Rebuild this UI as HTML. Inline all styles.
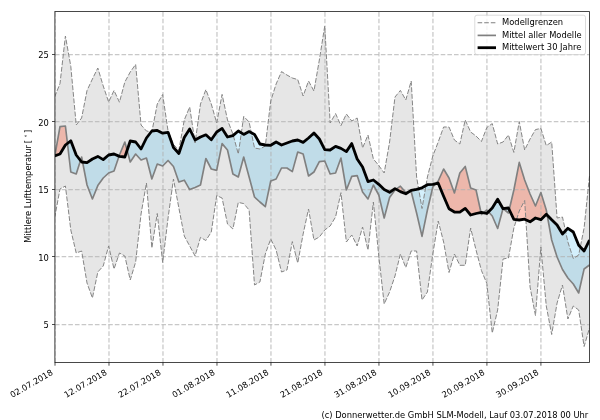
<!DOCTYPE html>
<html lang="de"><head><meta charset="utf-8"><title>Mittlere Lufttemperatur</title>
<style>
html,body{margin:0;padding:0;background:#fff;}
body{width:600px;height:420px;overflow:hidden;}
svg{display:block;}
svg text{font-family:"DejaVu Sans","Liberation Sans",sans-serif;font-size:8.33px;fill:#000;}
</style></head><body>
<svg width="600" height="420" viewBox="0 0 600 420">
<rect width="600" height="420" fill="#fff"/>
<defs><clipPath id="ax"><rect x="55.0" y="11.5" width="534.5" height="351.0"/></clipPath></defs>
<g clip-path="url(#ax)">
<polygon points="54.60,97.00 60.00,83.60 65.41,36.00 70.81,66.40 76.21,125.00 81.62,118.00 87.02,90.50 92.42,79.00 97.82,68.00 103.23,86.00 108.63,102.00 114.03,90.50 119.44,102.20 124.84,82.00 130.24,72.00 135.65,64.40 141.05,125.00 146.45,131.00 151.85,132.00 157.26,104.00 162.66,94.50 168.06,131.00 173.47,144.50 178.87,150.00 184.27,120.00 189.68,107.00 195.08,143.00 200.48,104.00 205.88,89.60 211.29,104.00 216.69,123.00 222.09,94.40 227.50,120.00 232.90,134.00 238.30,154.00 243.71,116.40 249.11,122.00 254.51,148.00 259.92,149.00 265.32,146.00 270.72,101.00 276.12,84.00 281.53,71.60 286.93,75.00 292.33,78.00 297.74,79.60 303.14,96.00 308.54,81.00 313.95,91.00 319.35,60.00 324.75,26.00 330.15,123.00 335.56,113.60 340.96,125.60 346.36,114.00 351.77,121.00 357.17,118.00 362.57,148.00 367.98,135.00 373.38,159.00 378.78,165.50 384.18,173.00 389.59,142.00 394.99,97.00 400.39,90.40 405.80,100.00 411.20,81.00 416.60,177.00 422.01,208.50 427.41,177.00 432.81,156.00 438.22,142.00 443.62,127.00 449.02,127.00 454.42,140.00 459.83,144.00 465.23,120.00 470.63,132.00 476.04,136.00 481.44,141.50 486.84,127.50 492.25,123.60 497.65,144.00 503.05,142.00 508.45,135.00 513.86,152.40 519.26,121.60 524.66,150.00 530.07,139.00 535.47,129.60 540.87,128.40 546.28,145.60 551.68,142.00 557.08,218.00 562.48,217.00 567.89,242.00 573.29,258.50 578.69,255.00 584.10,228.00 589.50,176.00 589.50,328.00 584.10,346.50 578.69,310.00 573.29,306.00 567.89,319.00 562.48,285.00 557.08,303.00 551.68,334.50 546.28,306.00 540.87,247.00 535.47,315.60 530.07,287.00 524.66,200.50 519.26,211.00 513.86,228.00 508.45,258.00 503.05,259.00 497.65,310.00 492.25,333.00 486.84,283.50 481.44,270.50 476.04,250.00 470.63,228.00 465.23,265.30 459.83,265.30 454.42,254.00 449.02,272.50 443.62,242.00 438.22,221.00 432.81,254.00 427.41,292.00 422.01,300.00 416.60,251.00 411.20,251.00 405.80,267.50 400.39,254.00 394.99,276.00 389.59,292.00 384.18,304.00 378.78,256.00 373.38,202.00 367.98,250.00 362.57,227.00 357.17,246.00 351.77,235.00 346.36,242.00 340.96,192.70 335.56,217.00 330.15,226.00 324.75,230.00 319.35,237.00 313.95,240.00 308.54,209.00 303.14,234.00 297.74,263.00 292.33,241.60 286.93,270.00 281.53,272.00 276.12,250.00 270.72,239.00 265.32,254.00 259.92,282.00 254.51,285.00 249.11,210.00 243.71,203.60 238.30,202.40 232.90,229.00 227.50,224.00 222.09,198.00 216.69,195.60 211.29,232.00 205.88,240.50 200.48,237.40 195.08,256.00 189.68,246.00 184.27,236.00 178.87,208.00 173.47,179.00 168.06,218.00 162.66,262.50 157.26,213.50 151.85,248.00 146.45,183.00 141.05,214.00 135.65,262.00 130.24,280.00 124.84,256.00 119.44,253.00 114.03,269.00 108.63,246.00 103.23,266.00 97.82,272.00 92.42,298.00 87.02,283.00 81.62,251.00 76.21,253.00 70.81,230.00 65.41,186.00 60.00,189.00 54.60,218.00" fill="#808080" fill-opacity="0.2"/>
<path d="M54.60,157.00L54.79,155.93L54.79,155.93L54.60,156.00ZM67.45,143.41L70.81,172.00L70.81,140.80L67.45,143.41ZM70.81,172.00L76.21,174.00L76.21,155.00L70.81,140.80ZM76.21,174.00L80.49,160.54L80.49,160.54L76.21,155.00ZM82.60,162.11L87.02,185.00L87.02,162.60L82.60,162.11ZM87.02,185.00L92.42,199.00L92.42,159.00L87.02,162.60ZM92.42,199.00L97.82,185.60L97.82,156.40L92.42,159.00ZM97.82,185.60L103.23,178.00L103.23,159.60L97.82,156.40ZM103.23,178.00L108.63,173.00L108.63,155.00L103.23,159.60ZM108.63,173.00L114.03,171.00L114.03,154.00L108.63,155.00ZM114.03,171.00L119.03,156.22L119.03,156.22L114.03,154.00ZM127.09,150.33L130.24,162.00L130.24,141.00L127.09,150.33ZM130.24,162.00L135.65,154.00L135.65,142.00L130.24,141.00ZM135.65,154.00L141.05,160.00L141.05,149.00L135.65,142.00ZM141.05,160.00L146.45,158.00L146.45,138.00L141.05,149.00ZM146.45,158.00L151.85,179.00L151.85,131.00L146.45,138.00ZM151.85,179.00L157.26,164.00L157.26,130.40L151.85,131.00ZM157.26,164.00L162.66,166.00L162.66,133.20L157.26,130.40ZM162.66,166.00L168.06,160.50L168.06,132.30L162.66,133.20ZM168.06,160.50L173.47,166.50L173.47,147.50L168.06,132.30ZM173.47,166.50L178.87,182.00L178.87,153.50L173.47,147.50ZM178.87,182.00L184.27,180.20L184.27,137.50L178.87,153.50ZM184.27,180.20L189.68,189.60L189.68,129.00L184.27,137.50ZM189.68,189.60L195.08,187.40L195.08,140.00L189.68,129.00ZM195.08,187.40L200.48,185.00L200.48,137.00L195.08,140.00ZM200.48,185.00L205.88,158.50L205.88,134.80L200.48,137.00ZM205.88,158.50L211.29,169.00L211.29,139.80L205.88,134.80ZM211.29,169.00L216.69,170.40L216.69,132.00L211.29,139.80ZM216.69,170.40L222.09,143.60L222.09,128.40L216.69,132.00ZM222.09,143.60L227.50,150.00L227.50,137.00L222.09,128.40ZM227.50,150.00L232.90,174.00L232.90,135.60L227.50,137.00ZM232.90,174.00L238.30,177.00L238.30,131.00L232.90,135.60ZM238.30,177.00L243.71,157.00L243.71,134.40L238.30,131.00ZM243.71,157.00L249.11,177.00L249.11,131.60L243.71,134.40ZM249.11,177.00L254.51,197.00L254.51,134.40L249.11,131.60ZM254.51,197.00L259.92,202.00L259.92,144.00L254.51,134.40ZM259.92,202.00L265.32,206.60L265.32,145.00L259.92,144.00ZM265.32,206.60L270.72,181.00L270.72,145.30L265.32,145.00ZM270.72,181.00L276.12,179.00L276.12,142.00L270.72,145.30ZM276.12,179.00L281.53,168.00L281.53,145.00L276.12,142.00ZM281.53,168.00L286.93,168.00L286.93,143.00L281.53,145.00ZM286.93,168.00L292.33,171.60L292.33,141.00L286.93,143.00ZM292.33,171.60L297.74,152.00L297.74,140.00L292.33,141.00ZM297.74,152.00L303.14,154.00L303.14,142.40L297.74,140.00ZM303.14,154.00L308.54,176.00L308.54,138.00L303.14,142.40ZM308.54,176.00L313.95,172.00L313.95,133.00L308.54,138.00ZM313.95,172.00L319.35,161.60L319.35,139.00L313.95,133.00ZM319.35,161.60L324.75,161.00L324.75,149.60L319.35,139.00ZM324.75,161.00L330.15,174.00L330.15,150.00L324.75,149.60ZM330.15,174.00L335.56,173.00L335.56,146.40L330.15,150.00ZM335.56,173.00L340.96,158.00L340.96,148.40L335.56,146.40ZM340.96,158.00L346.36,190.00L346.36,151.60L340.96,148.40ZM346.36,190.00L351.77,176.40L351.77,143.60L346.36,151.60ZM351.77,176.40L357.17,175.60L357.17,159.00L351.77,143.60ZM357.17,175.60L362.57,192.00L362.57,167.00L357.17,159.00ZM362.57,192.00L367.98,199.00L367.98,181.60L362.57,167.00ZM367.98,199.00L373.38,185.00L373.38,180.00L367.98,181.60ZM373.38,185.00L378.78,195.00L378.78,184.30L373.38,180.00ZM378.78,195.00L384.18,218.00L384.18,189.50L378.78,184.30ZM384.18,218.00L389.59,197.50L389.59,192.30L384.18,189.50ZM389.59,197.50L394.99,190.00L394.99,188.60L389.59,192.30ZM394.99,190.00L396.10,189.22L396.10,189.22L394.99,188.60ZM408.72,191.96L411.20,191.50L411.20,190.40L408.72,191.96ZM411.20,191.50L416.60,213.00L416.60,189.30L411.20,190.40ZM416.60,213.00L422.01,236.40L422.01,187.80L416.60,189.30ZM422.01,236.40L427.41,210.00L427.41,184.70L422.01,187.80ZM427.41,210.00L432.81,187.00L432.81,184.40L427.41,184.70ZM432.81,187.00L435.74,183.75L435.74,183.75L432.81,184.40ZM480.98,212.40L481.44,214.50L481.44,212.30L480.98,212.40ZM481.44,214.50L483.52,212.76L483.52,212.76L481.44,212.30ZM488.49,211.83L492.25,216.00L492.25,208.00L488.49,211.83ZM492.25,216.00L497.65,228.50L497.65,199.30L492.25,208.00ZM497.65,228.50L503.01,208.64L503.01,208.64L497.65,199.30ZM503.26,208.67L508.45,213.00L508.45,208.00L503.26,208.67ZM508.45,213.00L509.24,209.65L509.24,209.65L508.45,208.00ZM547.21,215.16L551.68,240.00L551.68,219.80L547.21,215.16ZM551.68,240.00L557.08,257.00L557.08,225.00L551.68,219.80ZM557.08,257.00L562.48,269.50L562.48,234.00L557.08,225.00ZM562.48,269.50L567.89,278.00L567.89,228.30L562.48,234.00ZM567.89,278.00L573.29,284.00L573.29,232.00L567.89,228.30ZM573.29,284.00L578.69,293.00L578.69,245.30L573.29,232.00ZM578.69,293.00L584.10,269.00L584.10,251.00L578.69,245.30ZM584.10,269.00L589.50,265.00L589.50,240.00L584.10,251.00Z" fill="#28b4f0" fill-opacity="0.2"/>
<path d="M54.79,155.93L60.00,126.60L60.00,154.00L54.79,155.93ZM60.00,126.60L65.41,126.00L65.41,145.00L60.00,154.00ZM65.41,126.00L67.45,143.41L67.45,143.41L65.41,145.00ZM80.49,160.54L81.62,157.00L81.62,162.00L80.49,160.54ZM81.62,157.00L82.60,162.11L82.60,162.11L81.62,162.00ZM119.03,156.22L119.44,155.00L119.44,156.40L119.03,156.22ZM119.44,155.00L124.84,142.00L124.84,157.00L119.44,156.40ZM124.84,142.00L127.09,150.33L127.09,150.33L124.84,157.00ZM396.10,189.22L400.39,186.20L400.39,191.60L396.10,189.22ZM400.39,186.20L405.80,192.50L405.80,193.80L400.39,191.60ZM405.80,192.50L408.72,191.96L408.72,191.96L405.80,193.80ZM435.74,183.75L438.22,181.00L438.22,183.20L435.74,183.75ZM438.22,181.00L443.62,169.00L443.62,196.30L438.22,183.20ZM443.62,169.00L449.02,178.00L449.02,208.70L443.62,196.30ZM449.02,178.00L454.42,193.00L454.42,212.00L449.02,208.70ZM454.42,193.00L459.83,173.00L459.83,212.20L454.42,212.00ZM459.83,173.00L465.23,166.40L465.23,208.40L459.83,212.20ZM465.23,166.40L470.63,188.00L470.63,215.00L465.23,208.40ZM470.63,188.00L476.04,190.00L476.04,213.50L470.63,215.00ZM476.04,190.00L480.98,212.40L480.98,212.40L476.04,213.50ZM483.52,212.76L486.84,210.00L486.84,213.50L483.52,212.76ZM486.84,210.00L488.49,211.83L488.49,211.83L486.84,213.50ZM503.01,208.64L503.05,208.50L503.05,208.70L503.01,208.64ZM503.05,208.50L503.26,208.67L503.26,208.67L503.05,208.70ZM509.24,209.65L513.86,190.00L513.86,219.30L509.24,209.65ZM513.86,190.00L519.26,162.40L519.26,220.00L513.86,219.30ZM519.26,162.40L524.66,180.00L524.66,219.20L519.26,220.00ZM524.66,180.00L530.07,194.00L530.07,221.80L524.66,219.20ZM530.07,194.00L535.47,206.00L535.47,218.00L530.07,221.80ZM535.47,206.00L540.87,192.50L540.87,219.70L535.47,218.00ZM540.87,192.50L546.28,210.00L546.28,214.20L540.87,219.70ZM546.28,210.00L547.21,215.16L547.21,215.16L546.28,214.20Z" fill="#ff4d25" fill-opacity="0.3"/>
<g stroke="#b0b0b0" stroke-opacity="0.7" stroke-width="1.25" stroke-dasharray="4.6 2.05" fill="none"><line x1="55.00" y1="362.5" x2="55.00" y2="11.5"/><line x1="108.99" y1="362.5" x2="108.99" y2="11.5"/><line x1="162.98" y1="362.5" x2="162.98" y2="11.5"/><line x1="216.97" y1="362.5" x2="216.97" y2="11.5"/><line x1="270.96" y1="362.5" x2="270.96" y2="11.5"/><line x1="324.95" y1="362.5" x2="324.95" y2="11.5"/><line x1="378.94" y1="362.5" x2="378.94" y2="11.5"/><line x1="432.93" y1="362.5" x2="432.93" y2="11.5"/><line x1="486.92" y1="362.5" x2="486.92" y2="11.5"/><line x1="540.91" y1="362.5" x2="540.91" y2="11.5"/><line x1="55.0" y1="324.50" x2="589.5" y2="324.50"/><line x1="55.0" y1="256.50" x2="589.5" y2="256.50"/><line x1="55.0" y1="189.50" x2="589.5" y2="189.50"/><line x1="55.0" y1="121.50" x2="589.5" y2="121.50"/><line x1="55.0" y1="54.50" x2="589.5" y2="54.50"/></g>
<polyline points="54.60,97.00 60.00,83.60 65.41,36.00 70.81,66.40 76.21,125.00 81.62,118.00 87.02,90.50 92.42,79.00 97.82,68.00 103.23,86.00 108.63,102.00 114.03,90.50 119.44,102.20 124.84,82.00 130.24,72.00 135.65,64.40 141.05,125.00 146.45,131.00 151.85,132.00 157.26,104.00 162.66,94.50 168.06,131.00 173.47,144.50 178.87,150.00 184.27,120.00 189.68,107.00 195.08,143.00 200.48,104.00 205.88,89.60 211.29,104.00 216.69,123.00 222.09,94.40 227.50,120.00 232.90,134.00 238.30,154.00 243.71,116.40 249.11,122.00 254.51,148.00 259.92,149.00 265.32,146.00 270.72,101.00 276.12,84.00 281.53,71.60 286.93,75.00 292.33,78.00 297.74,79.60 303.14,96.00 308.54,81.00 313.95,91.00 319.35,60.00 324.75,26.00 330.15,123.00 335.56,113.60 340.96,125.60 346.36,114.00 351.77,121.00 357.17,118.00 362.57,148.00 367.98,135.00 373.38,159.00 378.78,165.50 384.18,173.00 389.59,142.00 394.99,97.00 400.39,90.40 405.80,100.00 411.20,81.00 416.60,177.00 422.01,208.50 427.41,177.00 432.81,156.00 438.22,142.00 443.62,127.00 449.02,127.00 454.42,140.00 459.83,144.00 465.23,120.00 470.63,132.00 476.04,136.00 481.44,141.50 486.84,127.50 492.25,123.60 497.65,144.00 503.05,142.00 508.45,135.00 513.86,152.40 519.26,121.60 524.66,150.00 530.07,139.00 535.47,129.60 540.87,128.40 546.28,145.60 551.68,142.00 557.08,218.00 562.48,217.00 567.89,242.00 573.29,258.50 578.69,255.00 584.10,228.00 589.50,176.00" fill="none" stroke="#858585" stroke-width="1.0" stroke-dasharray="4.9 1.7"/>
<polyline points="54.60,218.00 60.00,189.00 65.41,186.00 70.81,230.00 76.21,253.00 81.62,251.00 87.02,283.00 92.42,298.00 97.82,272.00 103.23,266.00 108.63,246.00 114.03,269.00 119.44,253.00 124.84,256.00 130.24,280.00 135.65,262.00 141.05,214.00 146.45,183.00 151.85,248.00 157.26,213.50 162.66,262.50 168.06,218.00 173.47,179.00 178.87,208.00 184.27,236.00 189.68,246.00 195.08,256.00 200.48,237.40 205.88,240.50 211.29,232.00 216.69,195.60 222.09,198.00 227.50,224.00 232.90,229.00 238.30,202.40 243.71,203.60 249.11,210.00 254.51,285.00 259.92,282.00 265.32,254.00 270.72,239.00 276.12,250.00 281.53,272.00 286.93,270.00 292.33,241.60 297.74,263.00 303.14,234.00 308.54,209.00 313.95,240.00 319.35,237.00 324.75,230.00 330.15,226.00 335.56,217.00 340.96,192.70 346.36,242.00 351.77,235.00 357.17,246.00 362.57,227.00 367.98,250.00 373.38,202.00 378.78,256.00 384.18,304.00 389.59,292.00 394.99,276.00 400.39,254.00 405.80,267.50 411.20,251.00 416.60,251.00 422.01,300.00 427.41,292.00 432.81,254.00 438.22,221.00 443.62,242.00 449.02,272.50 454.42,254.00 459.83,265.30 465.23,265.30 470.63,228.00 476.04,250.00 481.44,270.50 486.84,283.50 492.25,333.00 497.65,310.00 503.05,259.00 508.45,258.00 513.86,228.00 519.26,211.00 524.66,200.50 530.07,287.00 535.47,315.60 540.87,247.00 546.28,306.00 551.68,334.50 557.08,303.00 562.48,285.00 567.89,319.00 573.29,306.00 578.69,310.00 584.10,346.50 589.50,328.00" fill="none" stroke="#858585" stroke-width="1.0" stroke-dasharray="4.9 1.7"/>
<polyline points="54.60,157.00 60.00,126.60 65.41,126.00 70.81,172.00 76.21,174.00 81.62,157.00 87.02,185.00 92.42,199.00 97.82,185.60 103.23,178.00 108.63,173.00 114.03,171.00 119.44,155.00 124.84,142.00 130.24,162.00 135.65,154.00 141.05,160.00 146.45,158.00 151.85,179.00 157.26,164.00 162.66,166.00 168.06,160.50 173.47,166.50 178.87,182.00 184.27,180.20 189.68,189.60 195.08,187.40 200.48,185.00 205.88,158.50 211.29,169.00 216.69,170.40 222.09,143.60 227.50,150.00 232.90,174.00 238.30,177.00 243.71,157.00 249.11,177.00 254.51,197.00 259.92,202.00 265.32,206.60 270.72,181.00 276.12,179.00 281.53,168.00 286.93,168.00 292.33,171.60 297.74,152.00 303.14,154.00 308.54,176.00 313.95,172.00 319.35,161.60 324.75,161.00 330.15,174.00 335.56,173.00 340.96,158.00 346.36,190.00 351.77,176.40 357.17,175.60 362.57,192.00 367.98,199.00 373.38,185.00 378.78,195.00 384.18,218.00 389.59,197.50 394.99,190.00 400.39,186.20 405.80,192.50 411.20,191.50 416.60,213.00 422.01,236.40 427.41,210.00 432.81,187.00 438.22,181.00 443.62,169.00 449.02,178.00 454.42,193.00 459.83,173.00 465.23,166.40 470.63,188.00 476.04,190.00 481.44,214.50 486.84,210.00 492.25,216.00 497.65,228.50 503.05,208.50 508.45,213.00 513.86,190.00 519.26,162.40 524.66,180.00 530.07,194.00 535.47,206.00 540.87,192.50 546.28,210.00 551.68,240.00 557.08,257.00 562.48,269.50 567.89,278.00 573.29,284.00 578.69,293.00 584.10,269.00 589.50,265.00" fill="none" stroke="#808080" stroke-width="1.65" stroke-linejoin="round"/>
<polyline points="54.60,156.00 60.00,154.00 65.41,145.00 70.81,140.80 76.21,155.00 81.62,162.00 87.02,162.60 92.42,159.00 97.82,156.40 103.23,159.60 108.63,155.00 114.03,154.00 119.44,156.40 124.84,157.00 130.24,141.00 135.65,142.00 141.05,149.00 146.45,138.00 151.85,131.00 157.26,130.40 162.66,133.20 168.06,132.30 173.47,147.50 178.87,153.50 184.27,137.50 189.68,129.00 195.08,140.00 200.48,137.00 205.88,134.80 211.29,139.80 216.69,132.00 222.09,128.40 227.50,137.00 232.90,135.60 238.30,131.00 243.71,134.40 249.11,131.60 254.51,134.40 259.92,144.00 265.32,145.00 270.72,145.30 276.12,142.00 281.53,145.00 286.93,143.00 292.33,141.00 297.74,140.00 303.14,142.40 308.54,138.00 313.95,133.00 319.35,139.00 324.75,149.60 330.15,150.00 335.56,146.40 340.96,148.40 346.36,151.60 351.77,143.60 357.17,159.00 362.57,167.00 367.98,181.60 373.38,180.00 378.78,184.30 384.18,189.50 389.59,192.30 394.99,188.60 400.39,191.60 405.80,193.80 411.20,190.40 416.60,189.30 422.01,187.80 427.41,184.70 432.81,184.40 438.22,183.20 443.62,196.30 449.02,208.70 454.42,212.00 459.83,212.20 465.23,208.40 470.63,215.00 476.04,213.50 481.44,212.30 486.84,213.50 492.25,208.00 497.65,199.30 503.05,208.70 508.45,208.00 513.86,219.30 519.26,220.00 524.66,219.20 530.07,221.80 535.47,218.00 540.87,219.70 546.28,214.20 551.68,219.80 557.08,225.00 562.48,234.00 567.89,228.30 573.29,232.00 578.69,245.30 584.10,251.00 589.50,240.00" fill="none" stroke="#000" stroke-width="2.8" stroke-linejoin="round"/>
</g>
<g stroke="#000" stroke-width="0.7"><line x1="55.00" y1="362.5" x2="55.00" y2="365.7"/><line x1="108.99" y1="362.5" x2="108.99" y2="365.7"/><line x1="162.98" y1="362.5" x2="162.98" y2="365.7"/><line x1="216.97" y1="362.5" x2="216.97" y2="365.7"/><line x1="270.96" y1="362.5" x2="270.96" y2="365.7"/><line x1="324.95" y1="362.5" x2="324.95" y2="365.7"/><line x1="378.94" y1="362.5" x2="378.94" y2="365.7"/><line x1="432.93" y1="362.5" x2="432.93" y2="365.7"/><line x1="486.92" y1="362.5" x2="486.92" y2="365.7"/><line x1="540.91" y1="362.5" x2="540.91" y2="365.7"/><line x1="55.0" y1="324.50" x2="52.0" y2="324.50"/><line x1="55.0" y1="256.50" x2="52.0" y2="256.50"/><line x1="55.0" y1="189.50" x2="52.0" y2="189.50"/><line x1="55.0" y1="121.50" x2="52.0" y2="121.50"/><line x1="55.0" y1="54.50" x2="52.0" y2="54.50"/></g>
<g stroke="#000" fill="none"><path d="M54.6,11.5H589.5V362.5H54.6" stroke-width="0.72"/><line x1="54.9" y1="11.5" x2="54.9" y2="362.5" stroke="#222" stroke-width="0.9"/></g>
<g><text transform="translate(53.50,374.20) rotate(-30)" text-anchor="end">02.07.2018</text><text transform="translate(107.49,374.20) rotate(-30)" text-anchor="end">12.07.2018</text><text transform="translate(161.48,374.20) rotate(-30)" text-anchor="end">22.07.2018</text><text transform="translate(215.47,374.20) rotate(-30)" text-anchor="end">01.08.2018</text><text transform="translate(269.46,374.20) rotate(-30)" text-anchor="end">11.08.2018</text><text transform="translate(323.45,374.20) rotate(-30)" text-anchor="end">21.08.2018</text><text transform="translate(377.44,374.20) rotate(-30)" text-anchor="end">31.08.2018</text><text transform="translate(431.43,374.20) rotate(-30)" text-anchor="end">10.09.2018</text><text transform="translate(485.42,374.20) rotate(-30)" text-anchor="end">20.09.2018</text><text transform="translate(539.41,374.20) rotate(-30)" text-anchor="end">30.09.2018</text></g>
<g><text x="48.9" y="328.20" text-anchor="end">5</text><text x="48.9" y="260.70" text-anchor="end">10</text><text x="48.9" y="193.20" text-anchor="end">15</text><text x="48.9" y="125.70" text-anchor="end">20</text><text x="48.9" y="58.20" text-anchor="end">25</text></g>
<text transform="translate(31.3,186.2) rotate(-90)" text-anchor="middle">Mittlere Lufttemperatur <tspan dx="-0.8">[ </tspan><tspan font-size="5.83" dy="-2.6">°</tspan><tspan dy="2.6" dx="-1.3"> ]</tspan></text>
<text x="588.2" y="417.8" text-anchor="end">(c) Donnerwetter.de GmbH SLM-Modell, Lauf 03.07.2018 00 Uhr</text>
<g>
<rect x="474.8" y="15.2" width="110.7" height="39.4" rx="2.2" ry="2.2" fill="#fff" fill-opacity="0.8" stroke="#ccc" stroke-opacity="0.7" stroke-width="1.0"/>
<line x1="477.6" y1="22.7" x2="496" y2="22.7" stroke="#808080" stroke-width="1.1" stroke-dasharray="4.6 2"/>
<line x1="477.6" y1="35.4" x2="496" y2="35.4" stroke="#808080" stroke-width="1.7"/>
<line x1="477.6" y1="47.7" x2="496" y2="47.7" stroke="#000" stroke-width="2.8"/>
<text x="502.1" y="25.2">Modellgrenzen</text>
<text x="502.1" y="38.0">Mittel aller Modelle</text>
<text x="502.1" y="50.2">Mittelwert 30 Jahre</text>
</g>
</svg>
</body></html>
